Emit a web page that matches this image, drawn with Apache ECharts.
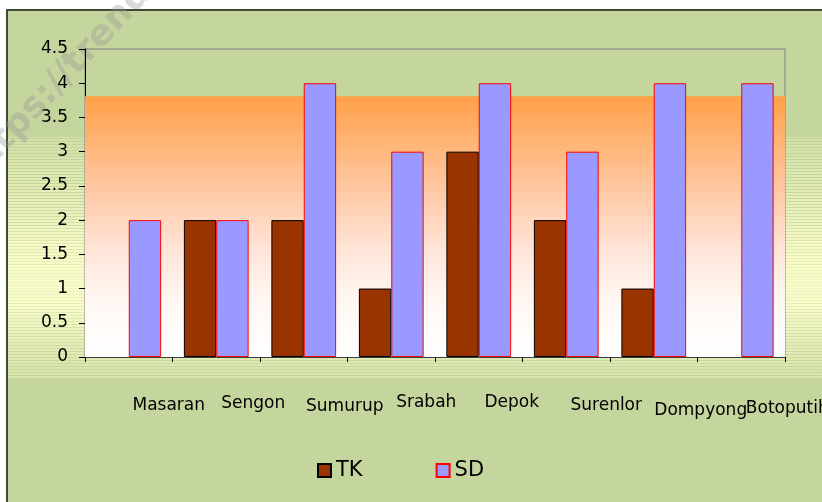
<!DOCTYPE html>
<html>
<head>
<meta charset="utf-8">
<script src="https://cdn.jsdelivr.net/npm/echarts@6/dist/echarts.min.js"></script>
<style>
  html, body { margin: 0; padding: 0; background: #ffffff; }
  #chart { width: 822px; height: 502px; }
</style>
</head>
<body>
<div id="chart"></div>
<script>
// data
const categories = ['Masaran', 'Sengon', 'Sumurup', 'Srabah', 'Depok', 'Surenlor', 'Dompyong', 'Botoputih']
const tkValues = [0, 2, 2, 1, 3, 2, 1, 0]
const sdValues = [2, 2, 4, 3, 4, 3, 4, 4]
const bandTop = 3.81 // top of the orange band, in y units

// label nudges [dx, dy] in px, the labels sit staggered under the axis
const labelShift = [[40, 4], [37, 2], [41, 5], [35, 1], [33, 1], [40, 4], [47, 9], [46, 7]]

const font = 'DejaVu Sans'
const chart = echarts.init(document.getElementById('chart'))

const rich = {}
labelShift.forEach(([dx, dy], i) => {
  rich['c' + i] = { fontFamily: font, fontSize: 17, color: '#000', padding: [dy, 0, 0, dx * 2] }
})

// zero bars are not drawn at all (no outline on the axis)
const noZero = arr => arr.map(v => (v === 0 ? '-' : v))

// striped band behind the plot
const stripes = []
for (let y = 138; y < 378; y += 3) {
  const t = (y - 137) / 241
  const op = Math.min(1, Math.abs(t - 0.6) * 2.2 + 0.15)
  stripes.push({
    type: 'line', z: -90, silent: true,
    shape: { x1: 8, y1: y + 0.5, x2: 822, y2: y + 0.5 },
    style: { stroke: '#c5d59e', lineWidth: 1, opacity: op }
  })
}

const option = {
  backgroundColor: '#ffffff',
  animation: false,
  graphic: [
    {
      type: 'rect', z: -100, silent: true,
      shape: { x: 7, y: 10, width: 830, height: 500 },
      style: { fill: '#c5d59e', stroke: '#404a35', lineWidth: 2 }
    },
    {
      type: 'rect', z: -95, silent: true,
      shape: { x: 8, y: 137, width: 814, height: 241 },
      style: {
        fill: {
          type: 'linear', x: 0, y: 0, x2: 0, y2: 1,
          colorStops: [
            { offset: 0, color: '#d2dfa6' },
            { offset: 0.45, color: '#f7f9c6' },
            { offset: 0.7, color: '#fafcca' },
            { offset: 1, color: '#d6e2aa' }
          ]
        }
      }
    },
    ...stripes,
    {
      type: 'text', z: -80, silent: true,
      x: -18, y: 190, rotation: 0.82,
      style: {
        text: 'https://trends', fontFamily: font, fontWeight: 'bold', fontSize: 36,
        fill: 'rgba(150,150,150,0.35)', textVerticalAlign: 'bottom'
      }
    }
  ],
  grid: {
    left: 85, right: 37, top: 49, bottom: 145,
    containLabel: false, outerBoundsMode: 'none',
    show: true, backgroundColor: 'transparent', borderColor: '#808080', borderWidth: 1
  },
  legend: {
    data: ['TK', 'SD'],
    left: 312, top: 455,
    itemWidth: 13, itemHeight: 13, itemGap: 73,
    icon: 'rect',
    textStyle: { fontFamily: font, fontSize: 21, color: '#000' }
  },
  xAxis: {
    type: 'category',
    data: categories,
    axisLine: { lineStyle: { color: '#404040', width: 1 } },
    axisTick: { show: true, length: 5, lineStyle: { color: '#000' } },
    axisLabel: {
      interval: 0, margin: 36,
      formatter: (v, i) => '{c' + i + '|' + v + '}',
      rich: rich
    },
    splitLine: { show: false }
  },
  yAxis: {
    type: 'value',
    min: 0, max: 4.5, interval: 0.5,
    axisLine: { show: true, lineStyle: { color: '#000', width: 1 } },
    axisTick: { show: true, length: 6, lineStyle: { color: '#000' } },
    axisLabel: { margin: 17, fontFamily: font, fontSize: 17, color: '#000' },
    splitLine: { show: false }
  },
  series: [
    {
      name: 'TK',
      type: 'bar',
      data: noZero(tkValues),
      barGap: '0%',
      barCategoryGap: '26%',
      itemStyle: { color: '#993300', borderColor: '#000000', borderWidth: 1 },
      markArea: {
        silent: true,
        itemStyle: {
          color: {
            type: 'linear', x: 0, y: 0, x2: 0, y2: 1,
            colorStops: [
              { offset: 0, color: '#ffa048' },
              { offset: 0.4, color: '#ffcdae' },
              { offset: 0.6, color: '#ffe6da' },
              { offset: 0.8, color: '#fff8f4' },
              { offset: 1, color: '#ffffff' }
            ]
          }
        },
        data: [[{ yAxis: 0 }, { yAxis: bandTop }]]
      }
    },
    {
      name: 'SD',
      type: 'bar',
      data: noZero(sdValues),
      itemStyle: { color: '#9999ff', borderColor: '#ff0000', borderWidth: 1 }
    }
  ]
}

chart.setOption(option)
</script>
</body>
</html>
